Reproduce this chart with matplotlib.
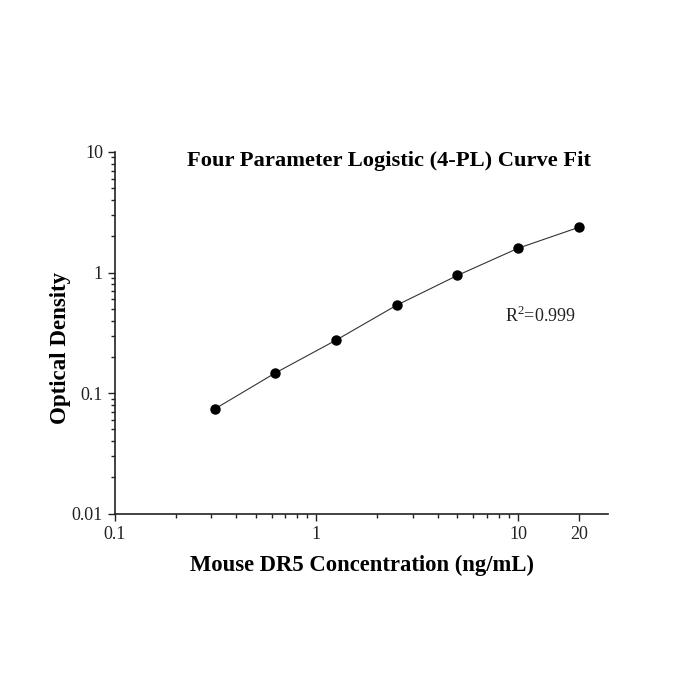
import matplotlib
matplotlib.use("Agg")
import matplotlib.pyplot as plt
from matplotlib.ticker import LogLocator, FixedLocator, NullFormatter

# Standard concentrations (ng/mL) and measured OD
conc = [0.3125, 0.625, 1.25, 2.5, 5, 10, 20]
od = [0.0738, 0.147, 0.275, 0.536, 0.946, 1.59, 2.37]

x_ticks = [0.1, 1, 10, 20]
x_tick_labels = ['0.1', '1', '10', '20']
y_ticks = [0.01, 0.1, 1, 10]
y_tick_labels = ['0.01', '0.1', '1', '10']

plt.rcParams['font.family'] = ['Liberation Serif', 'DejaVu Serif']
plt.rcParams['mathtext.fontset'] = 'custom'
plt.rcParams['mathtext.rm'] = 'Liberation Serif'

fig = plt.figure(figsize=(7, 7), dpi=100)
ax = fig.add_axes([0.164, 0.266, 0.705, 0.517])

ax.plot(conc, od, color='#333333', linewidth=0.8)
ax.plot(conc, od, linestyle='none', marker='o', markersize=6.5, color='black')

ax.set_xscale('log')
ax.set_yscale('log')
ax.set_xlim(0.1, 28)
ax.set_ylim(0.01, 10)

ax.xaxis.set_major_locator(FixedLocator(x_ticks))
ax.set_xticklabels(x_tick_labels)
ax.xaxis.set_minor_locator(FixedLocator([0.2, 0.3, 0.4, 0.5, 0.6, 0.7, 0.8, 0.9,
                                         2, 3, 4, 5, 6, 7, 8, 9]))
ax.xaxis.set_minor_formatter(NullFormatter())
ax.yaxis.set_major_locator(FixedLocator(y_ticks))
ax.set_yticklabels(y_tick_labels)
ax.yaxis.set_minor_locator(LogLocator(base=10, subs=[2, 3, 4, 5, 6, 7, 8, 9]))
ax.yaxis.set_minor_formatter(NullFormatter())

for s in ['top', 'right']:
    ax.spines[s].set_visible(False)
for s in ['left', 'bottom']:
    ax.spines[s].set_linewidth(1.2)
    ax.spines[s].set_color('#222222')

ax.tick_params(which='major', direction='out', length=5, width=1, labelsize=13, colors='#222222')
ax.tick_params(which='minor', direction='out', length=3, width=1, colors='#222222')

ax.text(0.556, 0.975, 'Four Parameter Logistic (4-PL) Curve Fit', transform=ax.transAxes,
        ha='center', va='center', fontsize=16.2, fontweight='bold')
ax.text(0.862, 0.548, r'R$^{\mathrm{2}}$=0.999', transform=ax.transAxes, ha='center', va='center',
        fontsize=13, color='#222222')

ax.set_xlabel('Mouse DR5 Concentration (ng/mL)', fontsize=16.3, fontweight='bold', labelpad=9)
ax.text(-0.11, 0.459, 'Optical Density', transform=ax.transAxes, rotation=90,
        ha='center', va='center', fontsize=16.5, fontweight='bold')

fig.savefig('out.png', dpi=100)
